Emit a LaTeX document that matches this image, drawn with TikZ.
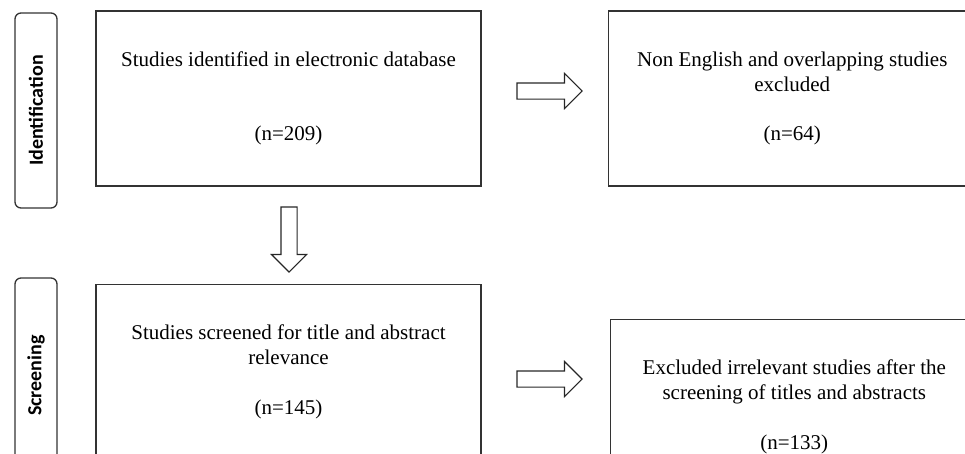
\documentclass[tikz,border=0pt]{standalone}
\usepackage{fontspec}
\setmainfont{Liberation Serif}
\newfontfamily\phasefont{Carlito}
\usetikzlibrary{positioning,shapes.arrows}

\tikzstyle{phase} = [rectangle, rounded corners=6pt, minimum width=195pt, minimum height=42pt, draw=black!80, line width=1.3pt, rotate=90, font=\phasefont\bfseries\fontsize{20}{24}\selectfont]
\tikzstyle{square} = [rectangle, minimum width=385pt, minimum height=175pt, text centered, align=center, draw=black!80, line width=1.3pt, font=\fontsize{21}{24.7}\selectfont]
\tikzstyle{blockarrow} = [single arrow, draw=black!85, line width=1.1pt, minimum height=65pt, inner sep=7.5pt, single arrow head extend=9.5pt, single arrow tip angle=90]

\begin{document}
\begin{tikzpicture}[x=1pt, y=-1pt]
    \useasboundingbox (0,0) rectangle (965,453);

    \node (identification) [phase] at (36,110.5) {Identification};
    \node (screening) [phase] at (36,375.5) {Screening};

    \node (identified) [square] at (288.5,98.5) {Studies identified in electronic database\\[49.4pt](n=209)};
    \node (nonenglish) [square, minimum width=368pt, right=126pt of identified] {Non English and overlapping studies\\excluded\\[24.7pt](n=64)};
    \node (screened) [square, below=97pt of identified] {Studies screened for title and abstract\\relevance\\[24.7pt](n=145)};
    \node (irrelevant) [square, minimum width=368pt, right=128pt of screened, yshift=-35pt] {Excluded irrelevant studies after the\\screening of titles and abstracts\\[24.7pt](n=133)};

    \node (toexcluded) [blockarrow] at (545.5,91) {};
    \node (toscreened) [blockarrow, rotate=-90] at (289,235.5) {};
    \node (toirrelevant) [blockarrow] at (545.5,379) {};

\end{tikzpicture}
\end{document}
